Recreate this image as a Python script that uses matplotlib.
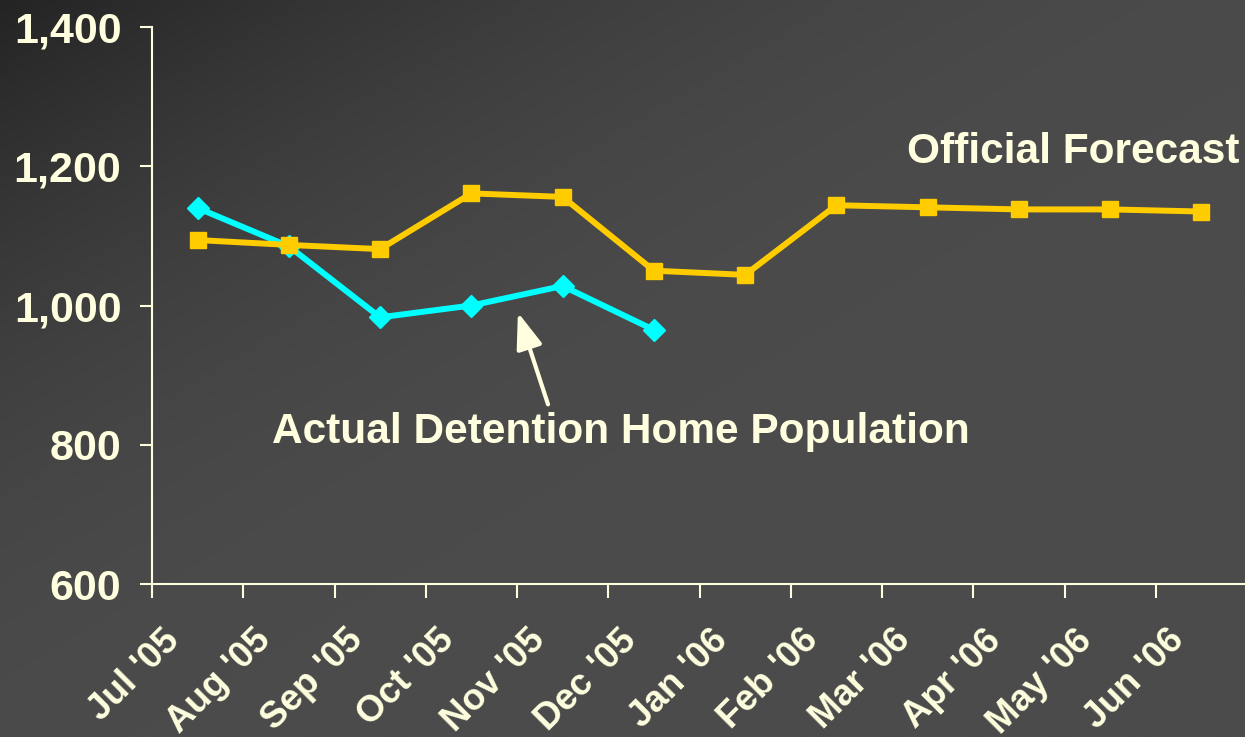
import numpy as np
import matplotlib
matplotlib.use("Agg")
import matplotlib.pyplot as plt
from matplotlib.transforms import ScaledTranslation

plt.rcParams['font.family'] = ['Liberation Sans', 'DejaVu Sans']
plt.rcParams['font.weight'] = 'bold'

months = ["Jul '05", "Aug '05", "Sep '05", "Oct '05", "Nov '05", "Dec '05",
          "Jan '06", "Feb '06", "Mar '06", "Apr '06", "May '06", "Jun '06"]
forecast = [1094, 1087, 1081, 1161, 1156, 1050, 1044, 1144, 1141, 1138, 1138, 1135]
actual = [1140, 1085, 983, 1000, 1028, 965]
yticks = [600, 800, 1000, 1200, 1400]

TXT = '#FFFFE0'
ORANGE = '#FFCC00'
CYAN = '#00FFFF'

W, H = 1245, 737
fig = plt.figure(figsize=(W / 100, H / 100), dpi=100)

# background gradient
bg = fig.add_axes([0, 0, 1, 1], zorder=-10)
xx, yy = np.meshgrid(np.linspace(0, 1, 300), np.linspace(0, 1, 200))
t = np.clip((xx + yy) / 1.1, 0, 1)
t = 1 - (1 - t) ** 2
v = (0x24 + (0x4b - 0x24) * t) / 255.0
img = np.dstack([v, v, v])
bg.imshow(img, aspect='auto', extent=[0, 1, 1, 0], interpolation='bilinear')
bg.set_xlim(0, 1)
bg.set_ylim(1, 0)
bg.axis('off')

ax = fig.add_axes([152 / W, 1 - 584 / H, 1095 / W, 557 / H])
ax.patch.set_alpha(0)

x = np.arange(len(months))
ax.plot(np.arange(len(actual)), actual, color=CYAN, lw=4.3, marker='D',
        ms=11, mec=CYAN, mfc=CYAN, zorder=3, clip_on=False)
ax.plot(x, forecast, color=ORANGE, lw=4.3, marker='s', ms=11,
        mec=ORANGE, mfc=ORANGE, zorder=4, clip_on=False)

ax.set_xlim(-0.5, len(months) - 0.5)
ax.set_ylim(600, 1400)

for s in ['top', 'right']:
    ax.spines[s].set_visible(False)
for s in ['left', 'bottom']:
    ax.spines[s].set_color(TXT)
    ax.spines[s].set_linewidth(1.5)

ax.set_yticks(yticks)
ax.set_yticklabels([f'{v:,}' for v in yticks])
ax.tick_params(axis='y', colors=TXT, length=9, width=1.5, labelsize=31, pad=13)

ax.set_xticks(np.arange(len(months)) - 0.5)
ax.set_xticklabels([])
ax.tick_params(axis='x', colors=TXT, length=10, width=1.5)

trans = ax.get_xaxis_transform() + ScaledTranslation(-23 / 100, -51 / 100, fig.dpi_scale_trans)
for i, m in enumerate(months):
    ax.text(i, 0, m, transform=trans, rotation=45, rotation_mode='anchor',
            ha='right', va='center', fontsize=26.5, color=TXT, fontweight='bold')

ax.text(0.9936, 1220, 'Official Forecast', transform=ax.get_yaxis_transform(),
        ha='right', va='center', fontsize=30.5, color=TXT, fontweight='bold',
        clip_on=False)
ax.text(4.64, 818, 'Actual Detention Home Population', ha='center', va='center',
        fontsize=30.5, color=TXT, fontweight='bold', clip_on=False)
ax.annotate('', xy=(3.51, 990), xytext=(3.84, 858),
            arrowprops=dict(arrowstyle='-|>,head_length=0.55,head_width=0.2',
                            color=TXT, lw=3, mutation_scale=40,
                            shrinkA=0, shrinkB=0),
            annotation_clip=False)

fig.savefig('out.png', dpi=100)
